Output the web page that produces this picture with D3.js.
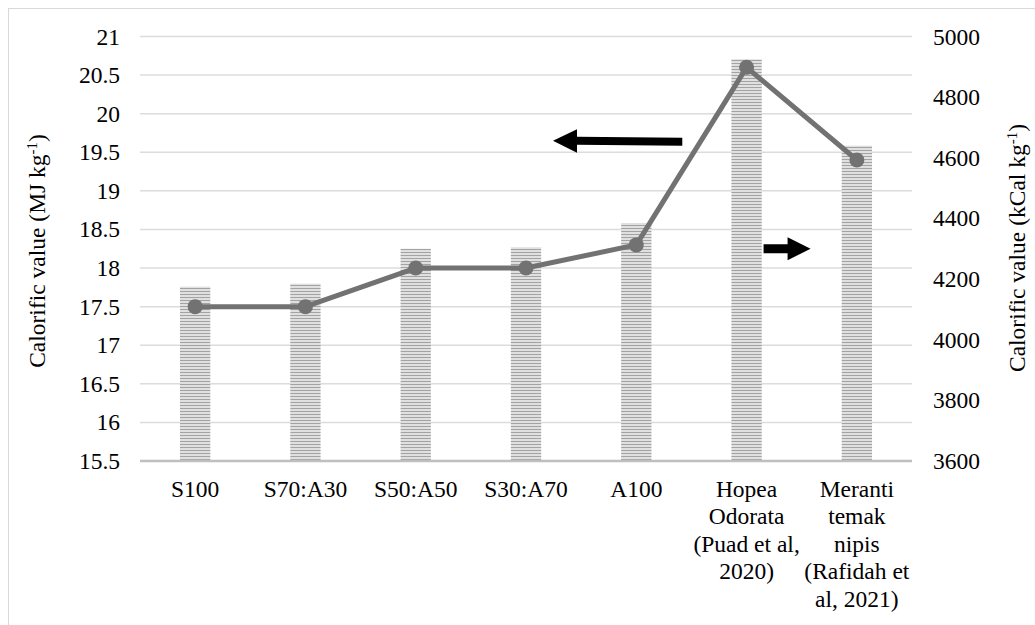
<!DOCTYPE html>
<html>
<head>
<meta charset="utf-8">
<script src="https://cdn.jsdelivr.net/npm/d3@7/dist/d3.min.js"></script>
<style>
  html, body { margin: 0; padding: 0; background: #fff; }
  svg { display: block; font-family: "Liberation Serif", "Times New Roman", serif; }
</style>
</head>
<body>
<svg id="chart" width="1035" height="625"></svg>
<script>
// Sample blends and reference woods
const categories = ["S100", "S70:A30", "S50:A50", "S30:A70", "A100", "Hopea Odorata", "Meranti temak nipis"];
const categoryLines = [
  ["S100"], ["S70:A30"], ["S50:A50"], ["S30:A70"], ["A100"],
  ["Hopea", "Odorata", "(Puad et al,", "2020)"],
  ["Meranti", "temak", "nipis", "(Rafidah et", "al, 2021)"]
];
// Calorific value in MJ/kg (line, left axis)
const valuesMJ = [17.5, 17.5, 18.0, 18.0, 18.3, 20.6, 19.4];
// Calorific value in kCal/kg (bars, right axis)
const valuesKcal = [4175, 4185, 4300, 4305, 4385, 4925, 4640];
// Axis ticks
const leftTicks = [15.5, 16, 16.5, 17, 17.5, 18, 18.5, 19, 19.5, 20, 20.5, 21];
const rightTicks = [3600, 3800, 4000, 4200, 4400, 4600, 4800, 5000];

const svg = d3.select("#chart");
const plot = { left: 140, right: 912, top: 36.5, bottom: 461 };
const font = 23.5;
const serif = "Liberation Serif, Times New Roman, serif";

// Outer chart frame
svg.append("rect")
  .attr("x", 8.5).attr("y", 8.5).attr("width", 1100).attr("height", 700)
  .attr("fill", "none").attr("stroke", "#d9d9d9").attr("stroke-width", 1);

const x = d3.scaleBand().domain(categories).range([plot.left, plot.right])
  .paddingInner(0.725).paddingOuter(0.3625);
const yL = d3.scaleLinear().domain([15.5, 21]).range([plot.bottom, plot.top]);
const yR = d3.scaleLinear().domain([3600, 5000]).range([plot.bottom, plot.top]);

// Stripe fill for bars
const defs = svg.append("defs");
const pat = defs.append("pattern").attr("id", "hstripe")
  .attr("patternUnits", "userSpaceOnUse").attr("width", 6).attr("height", 3);
pat.append("rect").attr("width", 6).attr("height", 3).attr("fill", "#e0e0e0");
pat.append("rect").attr("y", 0).attr("width", 6).attr("height", 1).attr("fill", "#a3a3a3");

// Gridlines (left-axis ticks)
svg.append("g").selectAll("line").data(leftTicks.filter(t => t !== 15.5)).join("line")
  .attr("x1", plot.left).attr("x2", plot.right)
  .attr("y1", d => yL(d)).attr("y2", d => yL(d))
  .attr("stroke", "#dcdcdc").attr("stroke-width", 1.5);

// Bars
svg.append("g").selectAll("rect").data(categories).join("rect")
  .attr("x", d => x(d))
  .attr("width", x.bandwidth())
  .attr("y", (d, i) => yR(valuesKcal[i]))
  .attr("height", (d, i) => yR(3600) - yR(valuesKcal[i]))
  .attr("fill", "url(#hstripe)");

// Baseline
svg.append("line")
  .attr("x1", plot.left).attr("x2", plot.right)
  .attr("y1", plot.bottom).attr("y2", plot.bottom)
  .attr("stroke", "#bfbfbf").attr("stroke-width", 2.5);

// Line series
const cx = d => x(d) + x.bandwidth() / 2;
const line = d3.line().x((d, i) => cx(categories[i])).y(d => yL(d));
svg.append("path").datum(valuesMJ)
  .attr("d", line).attr("fill", "none")
  .attr("stroke", "#727272").attr("stroke-width", 5).attr("stroke-linejoin", "round");
svg.append("g").selectAll("circle").data(valuesMJ).join("circle")
  .attr("cx", (d, i) => cx(categories[i])).attr("cy", d => yL(d))
  .attr("r", 7.5).attr("fill", "#727272");

// Left axis
const axL = svg.append("g").attr("transform", `translate(${plot.left},0)`)
  .call(d3.axisLeft(yL).tickValues(leftTicks).tickSize(0).tickPadding(20).tickFormat(d => String(d)));
axL.select(".domain").remove();
axL.attr("font-family", serif);
axL.selectAll("text").attr("font-size", font).attr("fill", "#000");

// Right axis
const axR = svg.append("g").attr("transform", `translate(${plot.right},0)`)
  .call(d3.axisRight(yR).tickValues(rightTicks).tickSize(0).tickPadding(21).tickFormat(d => String(d)));
axR.select(".domain").remove();
axR.attr("font-family", serif);
axR.selectAll("text").attr("font-size", font).attr("fill", "#000");

// Category axis with wrapped labels
const axB = svg.append("g").attr("transform", `translate(0,${plot.bottom})`)
  .call(d3.axisBottom(x).tickSize(0).tickPadding(0));
axB.select(".domain").remove();
axB.attr("font-family", serif);
axB.selectAll(".tick text").each(function(d) {
  const t = d3.select(this);
  const lines = categoryLines[categories.indexOf(d)];
  t.text(null).attr("font-size", font).attr("fill", "#000").attr("dy", null).attr("y", 0);
  lines.forEach((ln, k) => {
    t.append("tspan").attr("x", 0).attr("y", 35.5 + k * 27.6).text(ln);
  });
});

// Axis titles
function axisTitle(xPos, yPos, main) {
  const t = svg.append("text")
    .attr("transform", `translate(${xPos},${yPos}) rotate(-90)`)
    .attr("text-anchor", "middle").attr("font-size", font).attr("fill", "#000");
  t.append("tspan").text(main);
  t.append("tspan").attr("font-size", 15).attr("dy", -8.5).text("-1");
  t.append("tspan").attr("dy", 8.5).text(")");
}
axisTitle(45, 251, "Calorific value (MJ kg");
axisTitle(1025, 248, "Calorific value (kCal kg");

// Direction arrows: line → left axis, bars → right axis
const arrowL = { tip: cx("S30:A70") + 27, end: cx("A100") + 46, y: yL(19.65) };
svg.append("path")
  .attr("d", `M${arrowL.tip},${arrowL.y} L${arrowL.tip + 24},${arrowL.y - 11.5} L${arrowL.tip + 24},${arrowL.y - 4}
              L${arrowL.end},${arrowL.y - 3} L${arrowL.end},${arrowL.y + 5} L${arrowL.tip + 24},${arrowL.y + 4}
              L${arrowL.tip + 24},${arrowL.y + 12} Z`)
  .attr("fill", "#000");
const arrowR = { start: cx("Hopea Odorata") + 17, tip: cx("Hopea Odorata") + 64, y: yR(4300) };
svg.append("path")
  .attr("d", `M${arrowR.start},${arrowR.y - 4.5} L${arrowR.tip - 23},${arrowR.y - 4.5} L${arrowR.tip - 23},${arrowR.y - 11.5}
              L${arrowR.tip},${arrowR.y} L${arrowR.tip - 23},${arrowR.y + 11.5} L${arrowR.tip - 23},${arrowR.y + 4.5}
              L${arrowR.start},${arrowR.y + 4.5} Z`)
  .attr("fill", "#000");
</script>
</body>
</html>
